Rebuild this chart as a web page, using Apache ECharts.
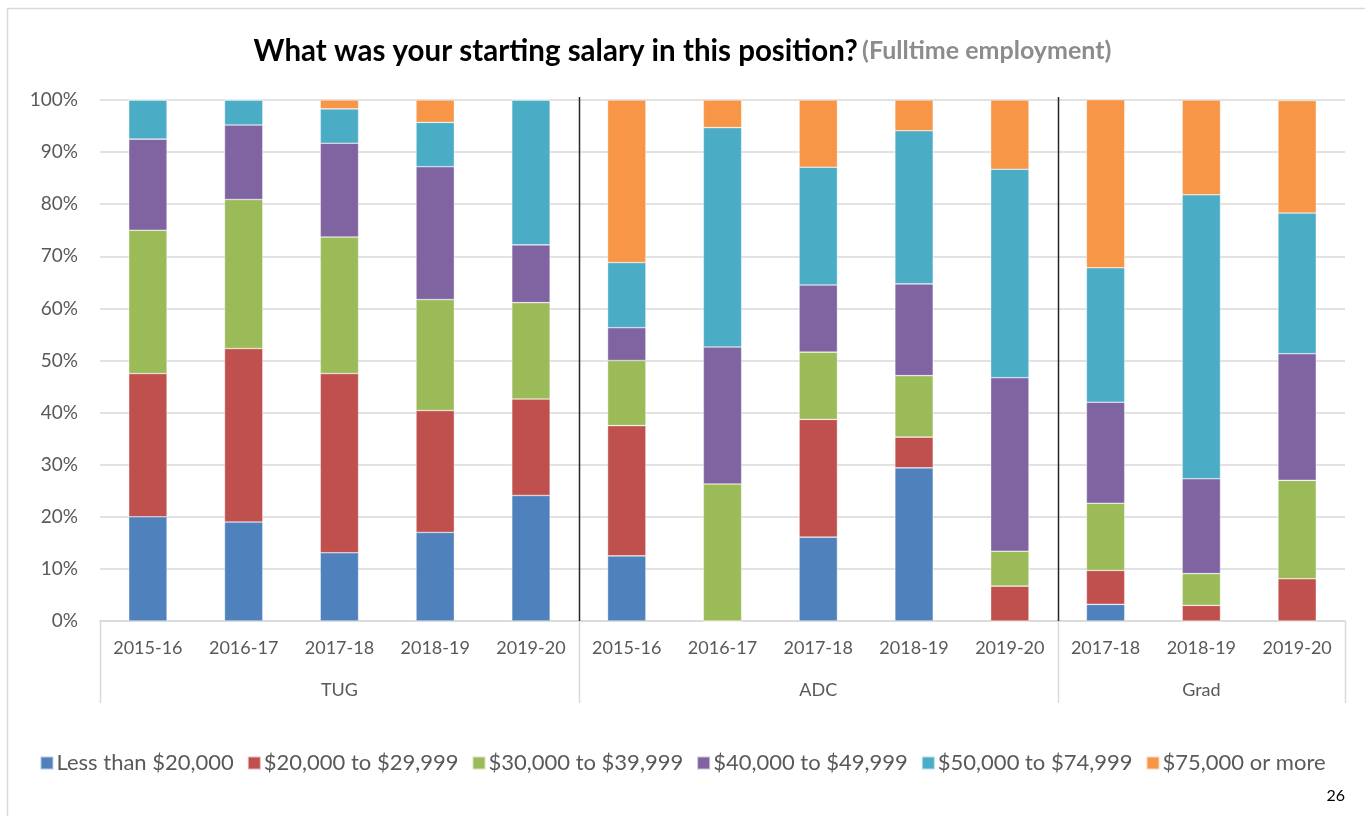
<!DOCTYPE html>
<html><head><meta charset="utf-8">
<script src="https://cdn.jsdelivr.net/npm/echarts@6/dist/echarts.min.js"></script>
<style>html,body{margin:0;padding:0;background:#fff}#c{width:1365px;height:816px}</style>
</head><body><div id="c"></div>
<script>
const years = ['2015-16','2016-17','2017-18','2018-19','2019-20','2015-16','2016-17','2017-18','2018-19','2019-20','2017-18','2018-19','2019-20'];
const groupNames = ['TUG','ADC','Grad'];
const groupSizes = [5,5,3];
const seriesNames = ['Less than $20,000','$20,000 to $29,999','$30,000 to $39,999','$40,000 to $49,999','$50,000 to $74,999','$75,000 or more'];
const colors = ['#4F81BD','#C0504D','#9BBB59','#8064A2','#4BACC6','#F79646'];
const lessThan20k   = [20.0,19.0,13.1,17.0,24.1, 12.5, 0.0,16.1,29.4, 0.0,  3.2, 0.0, 0.0];
const from20to30k   = [27.5,33.3,34.4,23.4,18.5, 25.0, 0.0,22.6, 5.9, 6.7,  6.5, 3.0, 8.1];
const from30to40k   = [27.5,28.6,26.2,21.3,18.5, 12.5,26.3,12.9,11.8, 6.7, 12.9, 6.1,18.9];
const from40to50k   = [17.5,14.3,18.0,25.5,11.1,  6.3,26.3,12.9,17.6,33.3, 19.4,18.2,24.3];
const from50to75k   = [ 7.5, 4.8, 6.6, 8.5,27.8, 12.5,42.1,22.6,29.4,40.0, 25.8,54.5,27.0];
const over75k       = [ 0.0, 0.0, 1.7, 4.3, 0.0, 31.2, 5.3,12.9, 5.9,13.3, 32.3,18.2,21.6];
const seriesValues = [lessThan20k, from20to30k, from30to40k, from40to50k, from50to75k, over75k];
const yTicks = [0,10,20,30,40,50,60,70,80,90,100];

const FONT = 'Lato, "Open Sans", sans-serif';
const chart = echarts.init(document.getElementById('c'), null, {renderer:'canvas'});

const groupAxisData = [];
groupSizes.forEach((n, gi) => { for (let i = 0; i < n; i++) groupAxisData.push(i === Math.floor(n/2) ? groupNames[gi] : ''); });
const totalCats = years.length;

const series = seriesNames.map((name, i) => ({
  name, type: 'bar', stack: 'total', barWidth: '40%',
  itemStyle: {color: colors[i], borderColor: 'rgba(255,255,255,0.6)', borderWidth: 0.6},
  data: seriesValues[i]
}));

chart.setOption({
  animation: false,
  textStyle: {fontFamily: FONT},
  title: {
    text: '{a|What was your starting salary in this position?} {b|(Fulltime employment)}',
    left: 'center', top: 31,
    textStyle: {rich: {
      a: {fontFamily: FONT, fontWeight: 'bold', fontSize: 29.5, color: '#000'},
      b: {fontFamily: FONT, fontWeight: 'bold', fontSize: 25, color: '#8C8C8C'}
    }}
  },
  legend: {
    bottom: 37, left: 'center', itemWidth: 13, itemHeight: 13, itemGap: 13, icon: 'rect',
    textStyle: {fontFamily: FONT, fontSize: 22, color: '#595959', padding: [0,0,0,-2]},
    data: seriesNames
  },
  grid: {left: 100, right: 20, top: 100, bottom: 195, containLabel: false},
  xAxis: [
    {type: 'category', data: years, position: 'bottom',
     axisLine: {show: true, lineStyle: {color: '#D9D9D9', width: 1.5}},
     axisTick: {show: false},
     axisLabel: {fontFamily: FONT, fontSize: 18, color: '#595959', margin: 18, interval: 0}},
    {type: 'category', data: groupAxisData, position: 'bottom', offset: 42,
     axisLine: {show: false}, axisTick: {show: false},
     axisLabel: {fontFamily: FONT, fontSize: 18, color: '#595959', margin: 18, interval: 0}},
    {type: 'value', min: 0, max: totalCats, show: false}
  ],
  yAxis: {
    type: 'value', min: 0, max: 100, interval: 10,
    axisLine: {show: false}, axisTick: {show: false},
    splitLine: {lineStyle: {color: '#D9D9D9', width: 1.5}},
    axisLabel: {fontFamily: FONT, fontSize: 19, color: '#595959', margin: 22,
      formatter: v => yTicks.includes(v) ? v + '%' : ''}
  },
  series
});

function drawSeparators() {
  const bounds = [0];
  groupSizes.forEach(n => bounds.push(bounds[bounds.length-1] + n));
  const y0 = chart.convertToPixel({yAxisIndex: 0}, 0);
  const y100 = chart.convertToPixel({yAxisIndex: 0}, 100);
  const els = [];
  bounds.forEach((b, i) => {
    const x = Math.round(chart.convertToPixel({xAxisIndex: 2}, b)) + 0.5;
    els.push({type: 'line', shape: {x1: x, y1: y0, x2: x, y2: y0 + 82}, style: {stroke: '#D9D9D9', lineWidth: 1.5}, silent: true});
    if (i > 0 && i < bounds.length - 1) {
      els.push({type: 'line', shape: {x1: x, y1: y100 - 3, x2: x, y2: y0}, style: {stroke: '#262626', lineWidth: 1.5}, z: 100, silent: true});
    }
  });
  els.push({type: 'rect', shape: {x: 7.5, y: 8.5, width: 1400, height: 820}, style: {fill: 'none', stroke: '#D9D9D9', lineWidth: 1.5}, silent: true});
  els.push({type: 'text', right: 20, top: 788, style: {text: '26', fontFamily: FONT, fontSize: 16, fill: '#000'}, silent: true});
  chart.setOption({graphic: els});
}
drawSeparators();
</script></body></html>
